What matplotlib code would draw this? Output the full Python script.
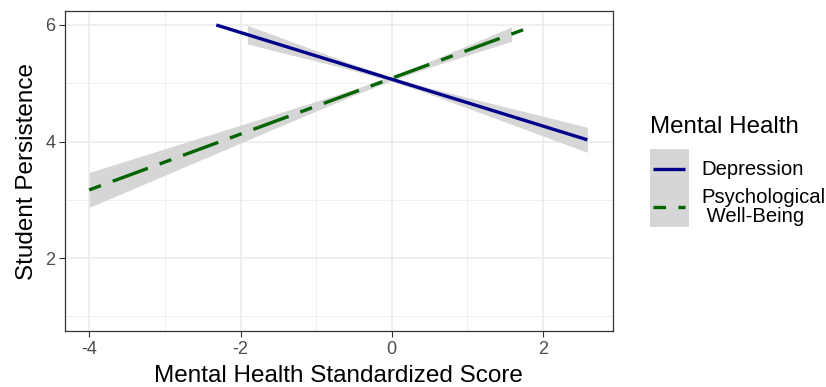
import matplotlib
matplotlib.use("Agg")
import matplotlib.pyplot as plt
from matplotlib.patches import Rectangle
from matplotlib.lines import Line2D
import numpy as np

plt.rcParams['font.family'] = ['Liberation Sans', 'DejaVu Sans']
plt.rcParams['axes.unicode_minus'] = False

# Data
dep_x = [-2.32, 2.585]
dep_y = [6.0, 4.03]
dep_band_x = [-1.91, -1.5, -1.0, -0.5, 0.0, 0.5, 1.0, 1.5, 2.0, 2.585]
dep_band_lo = [5.675, 5.54, 5.38, 5.216, 5.033, 4.814, 4.576, 4.336, 4.095, 3.815]
dep_band_hi = [5.995, 5.80, 5.56, 5.322, 5.103, 4.920, 4.756, 4.596, 4.435, 4.245]

pwb_x = [-4.0, 1.845]
pwb_y = [3.17, 5.97]
pwb_band_x = [-4.0, -3.5, -3.0, -2.5, -2.0, -1.5, -1.0, -0.5, 0.0, 0.5, 1.0, 1.585]
pwb_band_lo = [2.87, 3.146, 3.422, 3.699, 3.974, 4.25, 4.524, 4.795, 5.046, 5.274, 5.482, 5.72]
pwb_band_hi = [3.47, 3.674, 3.876, 4.079, 4.282, 4.486, 4.690, 4.899, 5.126, 5.378, 5.648, 5.97]

x_ticks = [-4, -2, 0, 2]
y_ticks = [2, 4, 6]
legend_title = "Mental Health"
legend_labels = ["Depression", "Psychological\n Well-Being"]

W, H = 826, 387
fig = plt.figure(figsize=(W / 100, H / 100), dpi=100)
L, R, T, B = 65, 612.7, 11, 331
ax = fig.add_axes([L / W, 1 - B / H, (R - L) / W, (B - T) / H])

blue = '#00008B'
green = '#006400'
band = '#D6D6D6'
lw = 2.4
a = 3.75
twodash = (0, (a, a, 3 * a, a))

ax.fill_between(dep_band_x, dep_band_lo, dep_band_hi, color=band, lw=0, zorder=2)
ax.fill_between(pwb_band_x, pwb_band_lo, pwb_band_hi, color=band, lw=0, zorder=2)
ax.plot(dep_x, dep_y, color=blue, lw=lw, solid_capstyle='butt', zorder=3)
ax.plot(pwb_x, pwb_y, color=green, lw=lw, linestyle=twodash, dash_capstyle='butt', zorder=3)

ax.set_xlim(-4.32, 2.92)
ax.set_ylim(0.75, 6.24)
ax.set_xticks(x_ticks)
ax.set_yticks(y_ticks)
ax.set_xticks([-3, -1, 1], minor=True)
ax.set_yticks([1, 3, 5], minor=True)
ax.grid(True, which='major', color='#EBEBEB', lw=1.1, zorder=0)
ax.grid(True, which='minor', color='#EBEBEB', lw=0.6, zorder=0)
ax.set_axisbelow(True)
ax.tick_params(which='minor', length=0)
ax.tick_params(which='major', length=4, width=0.8, color='#333333',
               labelsize=13, labelcolor='#4D4D4D', pad=3)
for s in ax.spines.values():
    s.set_color('#333333')
    s.set_linewidth(0.9)

ax.set_xlabel("Mental Health Standardized Score", fontsize=17.5, color='black', labelpad=5)
ax.set_ylabel("Student Persistence", fontsize=17.5, color='black', labelpad=5)

# Legend (manual)
def fx(px):
    return px / W
def fy(py):
    return 1 - py / H

fig.text(fx(650), fy(126.7), legend_title, fontsize=17.4, va='center', ha='left')
fig.patches.append(Rectangle((fx(650), fy(227.3)), fx(689) - fx(650), fy(149.3) - fy(227.3),
                             transform=fig.transFigure, facecolor=band, edgecolor='none'))
fig.lines.append(Line2D([fx(653), fx(685)], [fy(169), fy(169)], transform=fig.transFigure,
                        color=blue, lw=lw, solid_capstyle='butt'))
fig.lines.append(Line2D([fx(653), fx(685)], [fy(207.3), fy(207.3)], transform=fig.transFigure,
                        color=green, lw=lw, linestyle=twodash, dash_capstyle='butt'))
fig.text(fx(701), fy(169.3), legend_labels[0], fontsize=14.6, va='center', ha='left')
fig.text(fx(701), fy(207.3), legend_labels[1], fontsize=14.6, va='center', ha='left',
         linespacing=1.0)

fig.savefig("out.png", dpi=100)
